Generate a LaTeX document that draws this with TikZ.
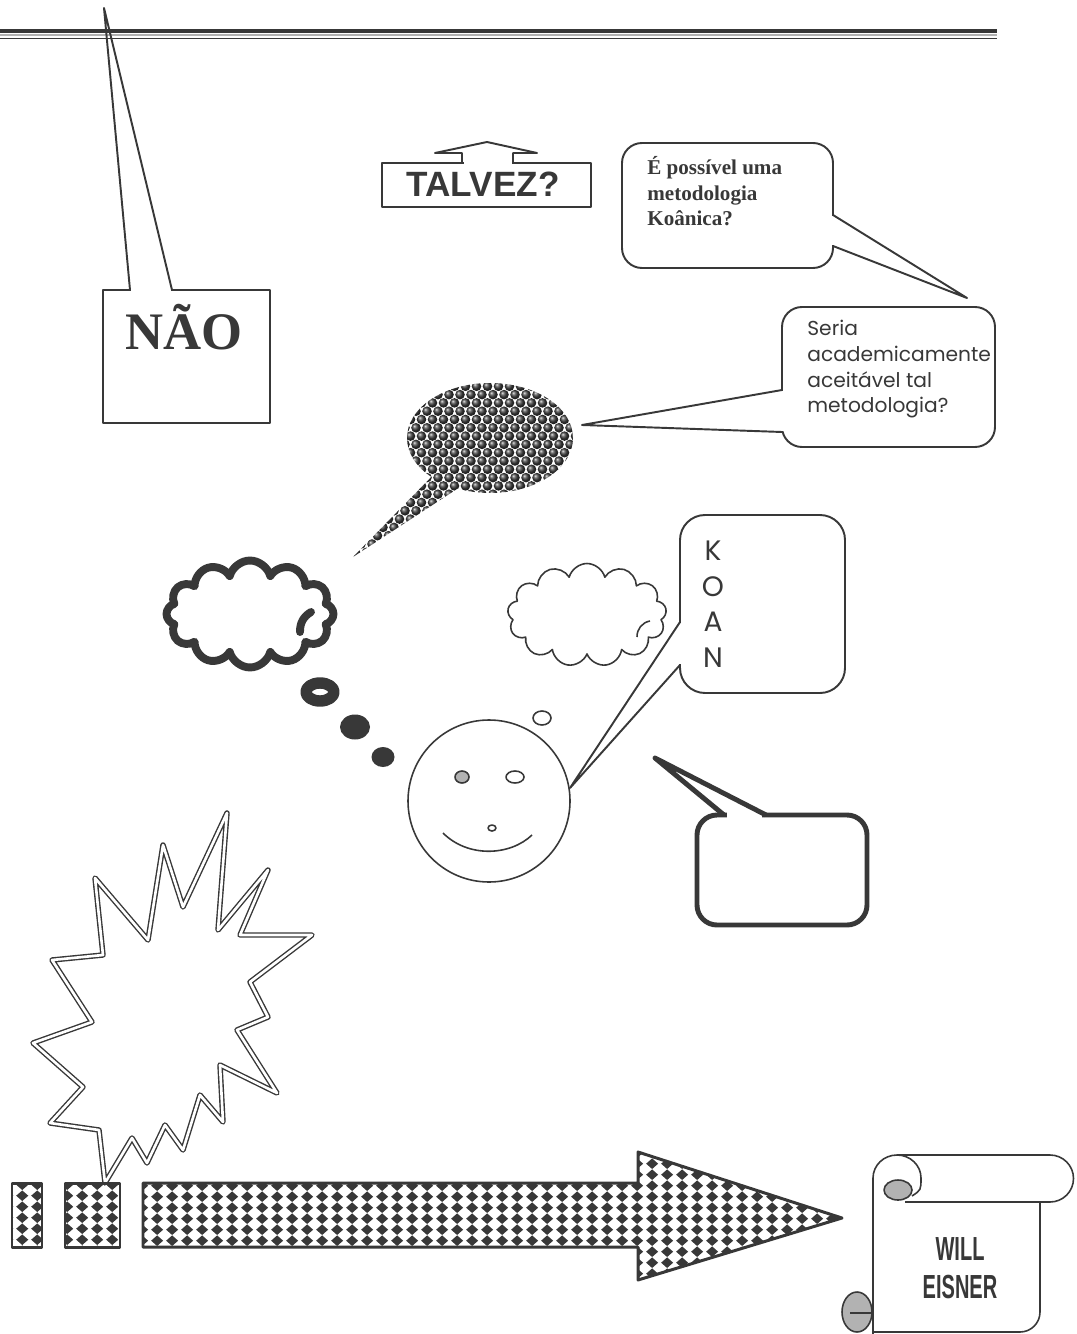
\documentclass[tikz,border=0pt]{standalone}
\usepackage{fontspec}
\setmainfont{Liberation Serif}
\newfontfamily\arialfont{Liberation Sans}
\newfontfamily\roundfont{Poppins}
\usetikzlibrary{shapes.symbols,patterns}
\definecolor{ink}{gray}{0.22}

% black lozenges stacked in columns
\pgfdeclarepatternformonly{harlequin}{\pgfpointorigin}{\pgfpoint{8.6pt}{6.4pt}}{\pgfpoint{8.6pt}{6.4pt}}{%
  \pgfpathmoveto{\pgfpoint{4.3pt}{0pt}}
  \pgfpathlineto{\pgfpoint{7.9pt}{3.2pt}}
  \pgfpathlineto{\pgfpoint{4.3pt}{6.4pt}}
  \pgfpathlineto{\pgfpoint{0.7pt}{3.2pt}}
  \pgfpathclose
  \pgfusepath{fill}}

\tikzset{%
  outline/.style={draw=ink, line width=1.1pt},
  bubble/.style={outline, fill=white, rounded corners=#1},
  bubble/.default=0.4cm,
  gap/.style={white, line width=1.8pt},
  said/.style={text=ink, inner sep=0pt, align=left, anchor=base west},
  dotbar/.style={draw=ink, line width=1.7pt, pattern=harlequin, pattern color=ink}
}

\begin{document}
\begin{tikzpicture}[x=0.02cm,y=-0.02cm,line join=round]
	\useasboundingbox (0,0) rectangle (1077,1334);
	% rule along the top
	\draw[ink, line width=2.3pt] (0,31) -- (997,31);
	\draw[black!30, line width=1.6pt] (0,35) -- (997,35);
	\draw[ink, line width=1.1pt] (0,38.5) -- (997,38.5);

	% NAO
	\draw[outline] (103,290) rectangle (270,423);
	\draw[gap] (131,290) -- (171,290);
	\draw[outline] (130,290) -- (104,8) -- (172,290);
	\node[font=\bfseries\fontsize{30}{30}\selectfont, text=ink, anchor=base] (nao) at (184,350) {NÃO};

	% TALVEZ with its roof
	\draw[outline] (382,163) rectangle (591,207);
	\draw[gap] (463.5,163) -- (511.5,163);
	\draw[outline] (462,163) -- (462,153) -- (435,153) -- (487,142) -- (537,153) -- (513,153) -- (513,163);
	\node[font=\arialfont\bfseries\fontsize{20}{20}\selectfont, text=ink, anchor=base] (talvez) at (483,197) {TALVEZ?};

	% first balloon (last line on the anchor)
	\draw[bubble] (622,143) rectangle (833,268);
	\draw[gap] (833,216) -- (833,245);
	\draw[outline] (833,215) -- (967,298) -- (833,246);
	\node[said, font=\bfseries\fontsize{12}{14.7}\selectfont] (q1) at (647,226) {É possível uma\\metodologia\\Koânica?};

	% second balloon
	\draw[bubble] (782,307) rectangle (995,447);
	\draw[gap] (782,391) -- (782,431);
	\draw[outline] (782,390) -- (582,425) -- (782,432);
	\node[said, font=\roundfont\fontsize{11.5}{14.7}\selectfont] (q2) at (807,413) {Seria\\academicamente\\aceitável tal\\metodologia?};

	% balloon filled with beads
	\begin{scope}
		\clip (353,557) -- ([shift={(490,438)}]135:83 and 55) arc[start angle=135,end angle=473,x radius=83,y radius=55] -- cycle;
		\foreach \r in {0,...,22}
			\foreach \c in {0,...,21}
				\shade[ball color=black!75] ({350+11*\c+5.5*mod(\r,2)},{378+8.3*\r}) circle (4.8);
	\end{scope}

	% heavy thought cloud
	\node[cloud, cloud puffs=12, aspect=1.55, minimum width=3.34cm, minimum height=2.14cm, draw=ink, line width=4.5pt] (heavy) at (250,614) {};
	\draw[ink, line width=4.5pt, line cap=round] (300,632) to[bend left=30] (311,612);
	\draw[ink, line width=6.5pt] (320,692) ellipse (14 and 9);
	\fill[ink] (355,727) ellipse (15 and 12.5);
	\fill[ink] (383,757) ellipse (11.5 and 10);

	% light thought cloud
	\node[cloud, cloud puffs=13, aspect=1.5, minimum width=3.18cm, minimum height=2.06cm, draw=ink, line width=0.9pt] (light) at (587,615) {};
	\draw[ink, line width=0.9pt] (637,637) to[bend left=40] (650,621);
	\draw[ink, line width=0.9pt] (542,718) ellipse (9 and 7);

	% face
	\draw[ink, line width=0.9pt] (489,801) circle (81);
	\filldraw[fill=black!30, draw=ink, line width=0.9pt] (462,777) ellipse (7 and 6);
	\draw[ink, line width=0.9pt] (515,777) ellipse (9 and 6);
	\draw[ink, line width=0.9pt] (492,828) ellipse (4 and 3);
	\draw[ink, line width=0.9pt] (443,833) .. controls (468,858) and (510,856) .. (532,835);

	% KOAN balloon
	\draw[bubble=0.5cm] (680,515) rectangle (845,693);
	\draw[gap] (680,623) -- (680,664);
	\draw[outline] (680,622) -- (570,788) -- (680,665);
	\node[said, anchor=base, align=center, font=\roundfont\fontsize{16}{20.2}\selectfont] (koan) at (713,667) {K\\O\\A\\N};

	% empty balloon
	\draw[bubble, line width=2.8pt] (697,815) rectangle (867,925);
	\draw[white, line width=3.5pt] (727,815) -- (762,815);
	\draw[ink, line width=2.8pt] (724,815) -- (655,758) -- (766,815);

	% burst
	\draw[ink, line width=0.8pt, double=white, double distance=1.5pt, fill=white]
		(227,813) -- (218,930) -- (268,870) -- (240,935) -- (312,935) -- (250,982)
		-- (268,1017) -- (237,1030) -- (277,1093) -- (220,1065) -- (223,1122)
		-- (200,1095) -- (183,1150) -- (165,1125) -- (147,1163) -- (132,1138)
		-- (105,1183) -- (99,1130) -- (50,1123) -- (83,1087) -- (33,1043)
		-- (92,1022) -- (52,960) -- (103,955) -- (95,878) -- (148,940)
		-- (163,845) -- (183,907) -- cycle;

	% bars and big arrow
	\draw[dotbar] (12,1183) rectangle (42,1247);
	\draw[dotbar] (65,1183) rectangle (120,1247);
	\draw[dotbar] (143,1183) -- (638,1183) -- (638,1152) -- (842,1218) -- (638,1280) -- (638,1247) -- (143,1247) -- cycle;

	% scroll
	\fill[white] (873,1155) rectangle (1040,1334);
	\filldraw[fill=black!30, draw=ink, line width=0.9pt] (857,1312) ellipse (15 and 20);
	\draw[ink, line width=0.9pt] (850,1313) -- (873,1313);
	\draw[ink, line width=0.9pt] (873,1334) -- (873,1178) arc[start angle=180,end angle=360,x radius=24,y radius=23] .. controls (921,1190) .. (912,1196);
	\draw[ink, line width=0.9pt] (897,1155) -- (1050,1155) arc[start angle=270,end angle=450,radius=23.5] -- (905,1202);
	\filldraw[fill=black!30, draw=ink, line width=0.9pt] (898,1190) ellipse (14 and 10);
	\draw[ink, line width=0.9pt] (1040,1202) -- (1040,1312) arc[start angle=0,end angle=90,radius=20] -- (873,1332);
	\node[font=\arialfont\bfseries\fontsize{19}{21.5}\selectfont, text=ink, inner sep=0pt, align=center, anchor=base] (eisner) at (960,1298) {\scalebox{0.6}[1]{WILL}\\\scalebox{0.6}[1]{EISNER}};
\end{tikzpicture}
\end{document}
